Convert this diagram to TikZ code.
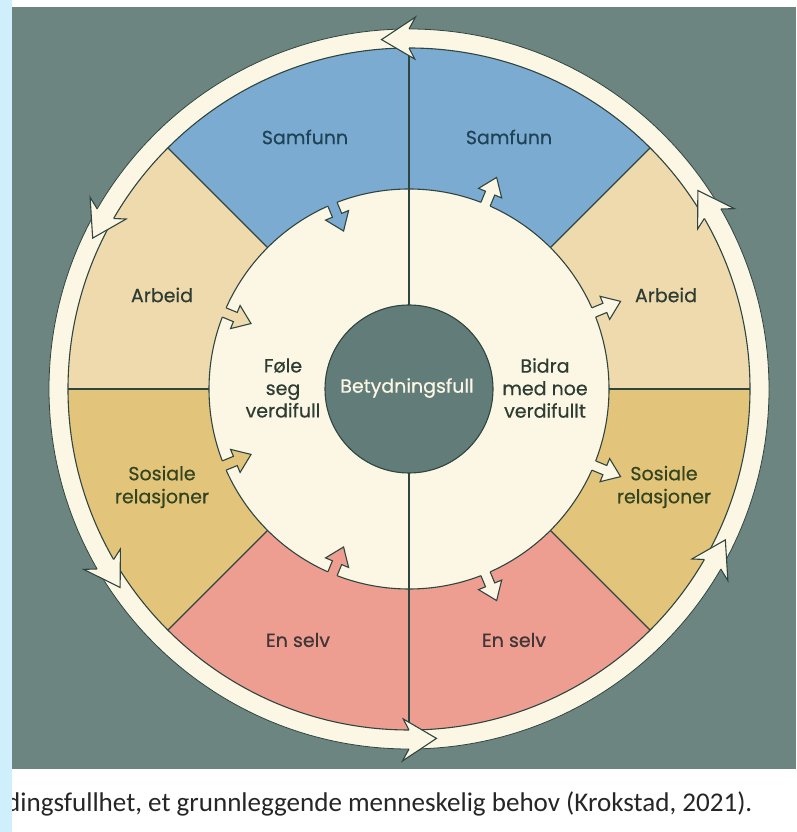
\documentclass[tikz,border=0pt]{standalone}
\usepackage{fontspec}
\usepackage{graphicx}
\setmainfont{Poppins}
\newfontfamily\lblfont{Poppins}[FakeBold=0.5]
\newfontfamily\capfont{Carlito}
\definecolor{bggrey}{HTML}{6C8581}
\definecolor{stripblue}{HTML}{CFEFFC}
\definecolor{creamc}{HTML}{FCF7E4}
\definecolor{blueseg}{HTML}{7CABD1}
\definecolor{arbeidc}{HTML}{EEDAAC}
\definecolor{sosc}{HTML}{E2C47A}
\definecolor{selvc}{HTML}{EE9D91}
\definecolor{centerc}{HTML}{617C79}
\definecolor{linec}{HTML}{2E4540}
\definecolor{txtblue}{HTML}{1F4257}
\definecolor{txtdark}{HTML}{2E3D34}
\definecolor{txtgreen}{HTML}{34441F}
\definecolor{txtselv}{HTML}{403636}
\definecolor{captxt}{HTML}{262626}
\tikzset{
  segline/.style={draw=linec, line width=1.1pt, line join=miter},
  lbl/.style={font=\lblfont\fontsize{19}{23}\selectfont, align=center, inner sep=0pt},
}
\newcommand\mysector[3]{\fill[#1] (#2:200) arc[start angle=#2,end angle=#3,radius=200] -- (#3:341) arc[start angle=#3,end angle=#2,radius=341] -- cycle;}
\begin{document}
\begin{tikzpicture}[x=1pt,y=1pt]
\useasboundingbox (0,0) rectangle (796,832);
\fill[white] (0,0) rectangle (796,832);
\fill[bggrey] (12,63) rectangle (796,825);
\node[anchor=base west, inner sep=0pt, text=captxt] (cap) at (6,20)
  {\resizebox{746pt}{!}{\capfont dingsfullhet, et grunnleggende menneskelig behov (Krokstad, 2021).}};
\fill[stripblue] (0,0) rectangle (12,832);
\begin{scope}[shift={(409,443)}]
  % outer ring
  \fill[creamc, even odd rule] (0,0) circle[radius=360] (0,0) circle[radius=341];
  % segments
  \mysector{blueseg}{90}{135}
  \mysector{blueseg}{45}{90}
  \mysector{arbeidc}{135}{180}
  \mysector{arbeidc}{0}{45}
  \mysector{sosc}{180}{225}
  \mysector{sosc}{-45}{0}
  \mysector{selvc}{225}{270}
  \mysector{selvc}{270}{315}
  % inner disc
  \fill[creamc] (0,0) circle[radius=200];
  % lines
  \draw[draw=linec, line width=0.8pt] (0,0) circle[radius=360];
  \draw[segline] (0,0) circle[radius=341];
  \draw[segline] (0,0) circle[radius=200];
  \foreach \a in {0,45,135,180,225,315}
    \draw[segline] (\a:200) -- (\a:341);
  \draw[segline] (90:341) -- (270:341);
  % inner arrows, right side (outward, cream)
  \foreach \a in {67.5,22.5,-22.5,-67.5} {
    \begin{scope}[rotate=\a]
      \fill[creamc] (195,-5) -- (212,-5) -- (212,-12.5) -- (229,0) -- (212,12.5) -- (212,5) -- (195,5) -- cycle;
      \draw[segline] (200,-5) -- (212,-5) -- (212,-12.5) -- (229,0) -- (212,12.5) -- (212,5) -- (200,5);
    \end{scope}
  }
  % inner arrows, left side (inward, segment colour)
  \foreach \a/\c in {112.5/blueseg,157.5/arbeidc,202.5/sosc,247.5/selvc} {
    \begin{scope}[rotate=\a]
      \fill[\c] (205,-5) -- (188,-5) -- (188,-12.5) -- (171,0) -- (188,12.5) -- (188,5) -- (205,5) -- cycle;
      \draw[segline] (200,-5) -- (188,-5) -- (188,-12.5) -- (171,0) -- (188,12.5) -- (188,5) -- (200,5);
    \end{scope}
  }
  % ring arrowheads (counter-clockwise)
  \foreach \t in {30,90,...,330} {
    \fill[creamc] (\t:360) -- (\t-1:372) -- (\t+4.5:350.5) -- (\t-1:330) -- (\t:341) -- cycle;
    \draw[segline] (\t:360) -- (\t-1:372) -- (\t+4.5:350.5) -- (\t-1:330) -- (\t:341);
  }
  % centre
  \fill[centerc] (0,0) circle[radius=84];
  \draw[segline] (0,0) circle[radius=84];
  \node[lbl, text=creamc] (core) at (-2,1) {Betydningsfull};
  % labels
  \node[lbl, text=txtblue] (samL) at (-104,252) {Samfunn};
  \node[lbl, text=txtblue] (samR) at (100,252) {Samfunn};
  \node[lbl, text=txtdark] (arbL) at (-247,94) {Arbeid};
  \node[lbl, text=txtdark] (arbR) at (257,94) {Arbeid};
  \node[lbl, text=txtgreen] (sosL) at (-247,-98) {Sosiale\\relasjoner};
  \node[lbl, text=txtgreen] (sosR) at (255,-98) {Sosiale\\relasjoner};
  \node[lbl, text=txtselv] (selvL) at (-111,-251) {En selv};
  \node[lbl, text=txtselv] (selvR) at (105,-251) {En selv};
  \node[lbl, text=txtdark, font=\lblfont\fontsize{19}{22.5}\selectfont] (fole) at (-126,1) {Føle\\seg\\verdifull};
  \node[lbl, text=txtdark, font=\lblfont\fontsize{19}{22.5}\selectfont] (bidra) at (136,1) {Bidra\\med noe\\verdifullt};
\end{scope}
\end{tikzpicture}
\end{document}
